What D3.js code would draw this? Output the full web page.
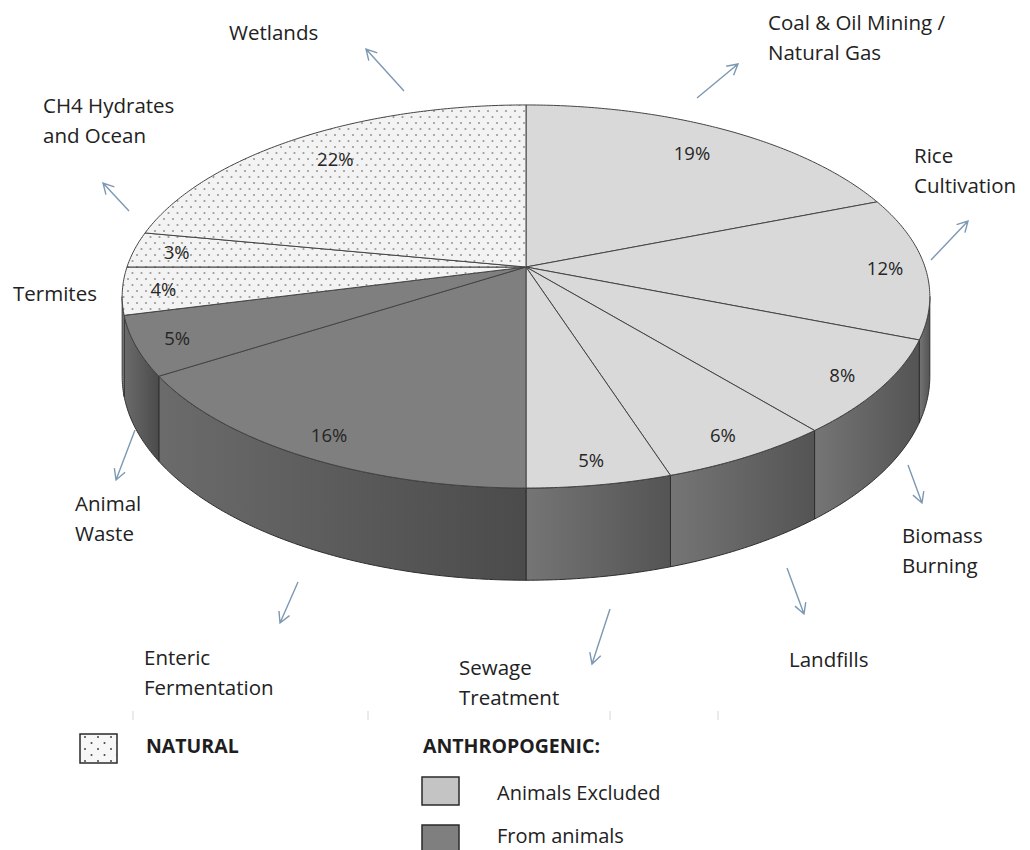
<!DOCTYPE html>
<html>
<head>
<meta charset="utf-8">
<script src="https://cdn.jsdelivr.net/npm/d3@7"></script>
<style>
  body { margin: 0; background: #fff; }
  svg { display: block; font-family: "Open Sans", "Noto Sans", sans-serif; }
</style>
</head>
<body>
<svg id="chart" width="1030" height="850"></svg>
<script>
// slices, clockwise from 12 o'clock
const categories = ["Coal & Oil Mining / Natural Gas", "Rice Cultivation", "Biomass Burning", "Landfills",
  "Sewage Treatment", "Enteric Fermentation", "Animal Waste", "Termites", "CH4 Hydrates and Ocean", "Wetlands"];
const shares = [19, 12, 8, 6, 5, 16, 5, 4, 3, 22];
const groups = ["excluded", "excluded", "excluded", "excluded", "excluded", "animals", "animals", "natural", "natural", "natural"];
const labelLines = [["Coal & Oil Mining /", "Natural Gas"], ["Rice", "Cultivation"], ["Biomass", "Burning"], ["Landfills"],
  ["Sewage", "Treatment"], ["Enteric", "Fermentation"], ["Animal", "Waste"], ["Termites"], ["CH4 Hydrates", "and Ocean"], ["Wetlands"]];

const legendGroups = ["natural", "excluded", "animals"];
const legendNames = ["NATURAL", "Animals Excluded", "From animals"];
const legendHeading = "ANTHROPOGENIC:";

// hand placed callouts (arrow start, arrow tip, text origin)
const callouts = {
  "Coal & Oil Mining / Natural Gas": { arrow: [[697, 98], [738, 64]], text: [768, 30] },
  "Rice Cultivation": { arrow: [[931, 260], [968, 221]], text: [914, 163] },
  "Biomass Burning": { arrow: [[908, 465], [922, 503]], text: [902, 543] },
  "Landfills": { arrow: [[787, 568], [804, 614]], text: [789, 667] },
  "Sewage Treatment": { arrow: [[610, 609], [592, 664]], text: [459, 675] },
  "Enteric Fermentation": { arrow: [[298, 582], [280, 623]], text: [144, 665] },
  "Animal Waste": { arrow: [[135, 430], [116, 480]], text: [75, 511] },
  "Termites": { arrow: null, text: [13, 301] },
  "CH4 Hydrates and Ocean": { arrow: [[129, 211], [103, 183]], text: [43, 113] },
  "Wetlands": { arrow: [[404, 91], [366, 49]], text: [229, 40] }
};

const colours = {
  natural: { top: "url(#dots)", side: ["#a8a8a8", "#8c8c8c"] },
  excluded: { top: "#d9d9d9", side: ["#757575", "#545454"] },
  animals: { top: "#7f7f7f", side: ["#6b6b6b", "#4b4b4b"] }
};

// perspective view of the disc: centre, half axes, perspective factor, thickness
const cx = 526, cy = 267, ax = 399, by = 187, persp = 0.154, depth = 78;

function project(phi, k, bottom) {
  const u = k * Math.sin(phi), v = k * Math.cos(phi);
  const w = 1 + persp * v;
  return [cx + ax * u / w, cy - by * v / w + (bottom ? depth / w : 0)];
}

function arcPoints(a, b, k, bottom) {
  const n = Math.max(2, Math.ceil(Math.abs(b - a) / 0.01));
  return d3.range(n + 1).map(i => project(a + (b - a) * i / n, k, bottom));
}

// labels sit near the rim, pulled in a little on the far side
function labelPos(d) {
  const mid = (d.startAngle + d.endAngle) / 2;
  return project(mid, 0.9 - 0.1 * Math.max(0, Math.cos(mid)), false);
}

const svg = d3.select("#chart");
const defs = svg.append("defs");

let pat = defs.append("pattern").attr("id", "dots").attr("patternUnits", "userSpaceOnUse")
  .attr("width", 9).attr("height", 12);
pat.append("rect").attr("width", 9).attr("height", 12).attr("fill", "#f3f3f3");
pat.append("circle").attr("cx", 2).attr("cy", 3).attr("r", 1.1).attr("fill", "#9a9a9a");
pat.append("circle").attr("cx", 6.5).attr("cy", 9).attr("r", 1.1).attr("fill", "#9a9a9a");

let pat2 = defs.append("pattern").attr("id", "legendDots").attr("patternUnits", "userSpaceOnUse")
  .attr("width", 13).attr("height", 12).attr("x", 81).attr("y", 734);
pat2.append("rect").attr("width", 13).attr("height", 12).attr("fill", "#f7f7f7");
pat2.append("circle").attr("cx", 4).attr("cy", 3).attr("r", 1).attr("fill", "#444");
pat2.append("circle").attr("cx", 10.5).attr("cy", 9).attr("r", 1).attr("fill", "#444");

const slices = categories.map((name, i) => ({ name, share: shares[i], group: groups[i], lines: labelLines[i] }));
const arcs = d3.pie().sort(null).value(d => d.share)(slices);

// side walls, only the part that faces the viewer
const sideFrom = Math.acos(-persp), sideTo = 2 * Math.PI - sideFrom;
const line = d3.line();
const sides = svg.append("g");
arcs.forEach((d, i) => {
  const a = Math.max(d.startAngle, sideFrom), b = Math.min(d.endAngle, sideTo);
  if (a >= b) return;
  const c = colours[d.data.group].side;
  const g = defs.append("linearGradient").attr("id", "side" + i).attr("x1", 0).attr("x2", 1).attr("y1", 0).attr("y2", 0);
  g.append("stop").attr("offset", 0).attr("stop-color", c[0]);
  g.append("stop").attr("offset", 1).attr("stop-color", c[1]);
  const pts = arcPoints(a, b, 1, false).concat(arcPoints(b, a, 1, true));
  sides.append("path")
    .attr("d", line(pts) + "Z")
    .attr("fill", `url(#side${i})`)
    .attr("stroke", "#2e2e2e").attr("stroke-width", 1).attr("stroke-linejoin", "round");
});

// top faces
const tops = svg.append("g");
tops.selectAll("path").data(arcs).join("path")
  .attr("d", d => line([[cx, cy]].concat(arcPoints(d.startAngle, d.endAngle, 1, false))) + "Z")
  .attr("fill", d => colours[d.data.group].top)
  .attr("stroke", "#444").attr("stroke-width", 1).attr("stroke-linejoin", "round");

// percentage labels
svg.append("g").selectAll("text").data(arcs).join("text")
  .attr("x", d => labelPos(d)[0])
  .attr("y", d => labelPos(d)[1])
  .attr("text-anchor", "middle").attr("dominant-baseline", "central")
  .attr("font-size", 18.5).attr("fill", "#262626")
  .text(d => d.data.share + "%");

// callouts
const notes = svg.append("g");
arcs.forEach(d => {
  const c = callouts[d.data.name];
  if (c.arrow) {
    const [p0, p1] = c.arrow;
    const ang = Math.atan2(p1[1] - p0[1], p1[0] - p0[0]);
    const head = [-0.5, 0.5].map(s => [p1[0] - 12 * Math.cos(ang + s), p1[1] - 12 * Math.sin(ang + s)]);
    notes.append("path")
      .attr("d", line([p0, p1]) + "M" + head[0] + "L" + p1 + "L" + head[1])
      .attr("fill", "none").attr("stroke", "#7c98b3").attr("stroke-width", 1.4);
  }
  const t = notes.append("text").attr("x", c.text[0]).attr("y", c.text[1])
    .attr("font-size", 20.5).attr("fill", "#222");
  d.data.lines.forEach((s, j) => t.append("tspan").attr("x", c.text[0]).attr("dy", j ? 30 : 0).text(s));
});

// faint separator ticks above the legend
svg.append("g").selectAll("line").data([133, 368, 610, 718]).join("line")
  .attr("x1", d => d).attr("x2", d => d).attr("y1", 711).attr("y2", 720)
  .attr("stroke", "#d6d6d6").attr("stroke-width", 1);

// legend
const legend = svg.append("g");
legend.append("rect").attr("x", 80).attr("y", 734).attr("width", 37).attr("height", 29)
  .attr("fill", "url(#legendDots)").attr("stroke", "#2a2a2a").attr("stroke-width", 1.5);
legend.append("text").attr("x", 146).attr("y", 753).attr("font-size", 19.5).attr("font-weight", "bold")
  .attr("fill", "#1e1e1e").text(legendNames[0]);
legend.append("text").attr("x", 423).attr("y", 753).attr("font-size", 19.5).attr("font-weight", "bold")
  .attr("fill", "#1e1e1e").text(legendHeading);
legendGroups.slice(1).forEach((g, i) => {
  legend.append("rect").attr("x", 422).attr("y", 777 + i * 48).attr("width", 37).attr("height", 28)
    .attr("fill", i ? "#7f7f7f" : "#c4c4c4").attr("stroke", "#2a2a2a").attr("stroke-width", 1.5);
  legend.append("text").attr("x", 497).attr("y", 800 + i * 43).attr("font-size", 20).attr("fill", "#222")
    .text(legendNames[i + 1]);
});
</script>
</body>
</html>
